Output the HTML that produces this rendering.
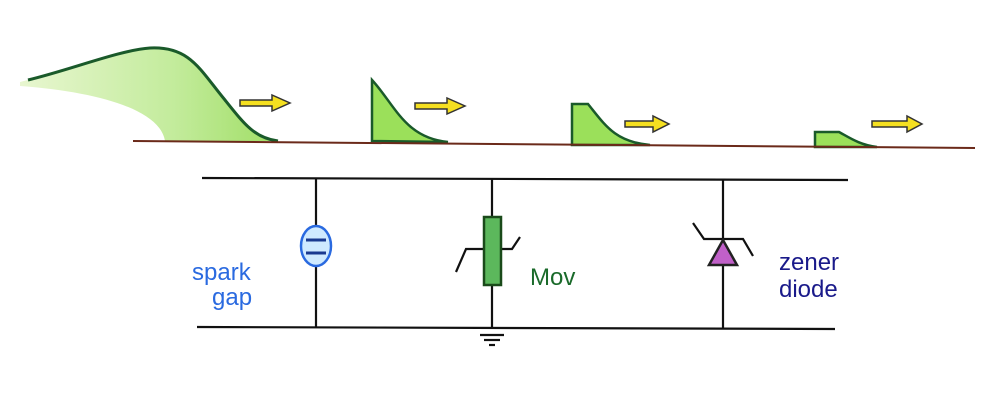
<!DOCTYPE html>
<html><head><meta charset="utf-8"><style>body{margin:0;background:#fff}svg{display:block}</style></head><body>
<svg width="1008" height="400" viewBox="0 0 1008 400" xmlns="http://www.w3.org/2000/svg">
<defs><linearGradient id="g" x1="0" x2="1" y1="0" y2="0"><stop offset="0" stop-color="#e4f5c8"/><stop offset="0.6" stop-color="#b8e88a"/><stop offset="1" stop-color="#8fd84a"/></linearGradient></defs>
<path d="M20 82 C70 70 120 50 150 48 C190 46 200 70 225 100 C245 125 255 138 278 141 L165 141 C160 110 100 92 20 86 Z" fill="url(#g)" opacity="0.85"/>
<path d="M28 80 C70 70 120 50 150 48 C190 46 200 70 225 100 C245 125 255 138 278 141" fill="none" stroke="#1a5a2a" stroke-width="3"/>
<path d="M372 141 L372 80 C395 105 405 138 448 142 Z" fill="#9be05a" stroke="#1a5a2a" stroke-width="2.5"/>
<path d="M572 145 L572 104 L588 104 C605 125 615 142 650 145 Z" fill="#9be05a" stroke="#1a5a2a" stroke-width="2.5"/>
<path d="M815 147 L815 132 L839 132 C850 138 860 145 877 147 Z" fill="#9be05a" stroke="#1a5a2a" stroke-width="2.5"/>
<line x1="133" y1="141" x2="975" y2="148" stroke="#6b2a1a" stroke-width="2"/>
<g fill="#f5e020" stroke="#333" stroke-width="1.5">
<path d="M240 100 H272 V95 L290 103 L272 111 V106 H240 Z"/>
<path d="M415 103 H447 V98 L465 106 L447 114 V109 H415 Z"/>
<path d="M625 121 H653 V116 L669 124 L653 132 V127 H625 Z"/>
<path d="M872 121 H907 V116 L922 124 L907 132 V127 H872 Z"/>
</g>
<g stroke="#111" stroke-width="2.2" fill="none">
<line x1="202" y1="178" x2="848" y2="180"/>
<line x1="197" y1="327" x2="835" y2="329"/>
<line x1="316" y1="178" x2="316" y2="327"/>
<line x1="492" y1="179" x2="492" y2="328"/>
<line x1="723" y1="180" x2="723" y2="329"/>
<line x1="480" y1="335" x2="504" y2="335"/><line x1="484" y1="340" x2="500" y2="340"/><line x1="489" y1="345" x2="495" y2="345"/>
<path d="M456 272 L466 249 H484 M500 249 H512 L520 237"/>
<path d="M693 223 L704 239 H743 L753 256"/>
</g>
<ellipse cx="316" cy="246" rx="15" ry="20" fill="#cfeaff" stroke="#2a6ae0" stroke-width="2.5"/>
<line x1="306" y1="240" x2="326" y2="240" stroke="#1a3a90" stroke-width="3"/>
<line x1="306" y1="253" x2="326" y2="253" stroke="#1a3a90" stroke-width="3"/>
<rect x="484" y="217" width="17" height="68" fill="#5cb85c" stroke="#1a4a1a" stroke-width="2.5"/>
<path d="M723 240 L709 265 H737 Z" fill="#c060c8" stroke="#222" stroke-width="2.5"/>
<g font-family="Liberation Sans, sans-serif" font-size="24">
<text x="192" y="280" fill="#2a6ae0">spark</text><text x="212" y="305" fill="#2a6ae0">gap</text>
<text x="530" y="285" fill="#1a6a2a">Mov</text>
<text x="779" y="270" fill="#1a1a8a">zener</text><text x="779" y="297" fill="#1a1a8a">diode</text>
</g>
</svg>
</body></html>
